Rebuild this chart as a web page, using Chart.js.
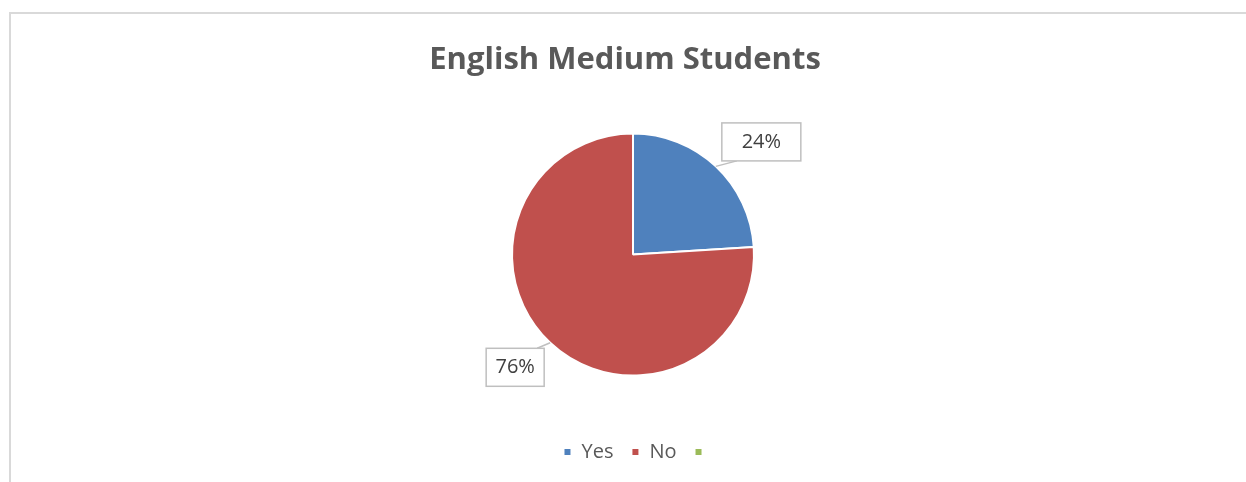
<!DOCTYPE html>
<html>
<head>
<meta charset="utf-8">
<script src="https://cdn.jsdelivr.net/npm/chart.js@4.4.1/dist/chart.umd.min.js"></script>
<style>
  html, body { margin: 0; padding: 0; background: #fff; overflow: hidden; }
  #frame {
    position: absolute; left: 9px; top: 12px;
    width: 1300px; height: 520px;
    border: 2px solid #d9d9d9; box-sizing: border-box;
  }
  #wrap { position: absolute; left: 0; top: 0; width: 1246px; height: 482px; }
</style>
</head>
<body>
<div id="frame"></div>
<div id="wrap"><canvas id="grafico-ingles"></canvas></div>
<script>
// Chart: English medium students (share of yes / no)
const categorias = ["Yes", "No", ""];
const porcentajes = [24, 76, 0];
const colores = ["#4F81BD", "#C0504D", "#9BBB59"];

const fuente = "'Open Sans', Lato, sans-serif";

// Callout boxes with leader lines for each non-empty slice
const etiquetasCallout = {
    id: "etiquetasCallout",
    afterLayout(chart, args, opts) {
        // title sits a little left of the pie, legend a little right
        chart.titleBlock.left += opts.desplazaTitulo;
        chart.titleBlock.right += opts.desplazaTitulo;
        chart.legend.left += opts.desplazaLeyenda;
        chart.legend.right += opts.desplazaLeyenda;
    },
    afterDatasetsDraw(chart, args, opts) {
        const { ctx } = chart;
        const meta = chart.getDatasetMeta(0);
        ctx.save();
        ctx.font = "20px " + fuente;
        ctx.textAlign = "center";
        ctx.textBaseline = "middle";
        meta.data.forEach((arc, i) => {
            const valor = porcentajes[i];
            if (!valor) return;
            const { x, y, startAngle, endAngle, outerRadius } = arc.getProps(
                ["x", "y", "startAngle", "endAngle", "outerRadius"], true);
            const medio = (startAngle + endAngle) / 2;
            const dx = Math.sign(Math.cos(medio)), dy = Math.sign(Math.sin(medio));
            // point on the slice edge where the leader starts
            const ex = x + Math.cos(medio) * outerRadius;
            const ey = y + Math.sin(medio) * outerRadius;
            const w = opts.anchos[i], h = 38;
            const bx = dx > 0 ? ex + 6 : ex - 6 - w;
            const by = ey + dy * 24.5 - h / 2;
            const tx = dx > 0 ? bx + 15 : bx + w - 7;
            const ty = dy < 0 ? by + h : by;
            ctx.strokeStyle = "#bfbfbf";
            ctx.lineWidth = 1.5;
            ctx.beginPath();
            ctx.moveTo(ex, ey);
            ctx.lineTo(tx, ty);
            ctx.stroke();
            ctx.fillStyle = "#ffffff";
            ctx.fillRect(bx, by, w, h);
            ctx.strokeRect(bx, by, w, h);
            ctx.fillStyle = "#404040";
            ctx.fillText(valor + "%", bx + w / 2, by + h / 2);
        });
        ctx.restore();
    }
};

const ctx1 = document.getElementById("grafico-ingles").getContext("2d");
new Chart(ctx1, {
    type: "pie",
    data: {
        labels: categorias,
        datasets: [{
            data: porcentajes,
            backgroundColor: colores,
            borderColor: "#ffffff",
            borderWidth: 2,
            radius: 121,
        }]
    },
    options: {
        responsive: true,
        maintainAspectRatio: false,
        animation: false,
        layout: { padding: { left: 20, top: 0, bottom: 10 } },
        plugins: {
            title: {
                display: true,
                text: "English Medium Students",
                color: "#595959",
                font: { family: fuente, size: 31, weight: "bold" },
                padding: { top: 42, bottom: 6 },
            },
            legend: {
                position: "bottom",
                labels: {
                    boxWidth: 8,
                    boxHeight: 8,
                    padding: 18,
                    color: "#595959",
                    font: { family: fuente, size: 20 },
                },
            },
            tooltip: { enabled: false },
            etiquetasCallout: { anchos: [79, 58], desplazaTitulo: -8, desplazaLeyenda: 5 },
        },
    },
    plugins: [etiquetasCallout],
});
</script>
</body>
</html>
